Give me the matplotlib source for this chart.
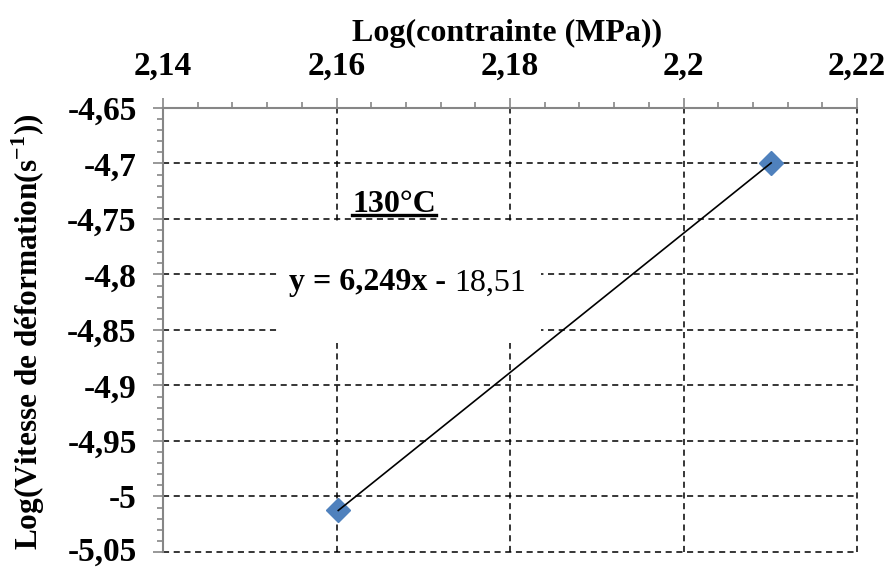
import matplotlib
matplotlib.use('Agg')

import matplotlib.pyplot as plt
import matplotlib.transforms as mtransforms
from matplotlib.lines import Line2D
from matplotlib.patches import Rectangle
from matplotlib.ticker import MultipleLocator, FuncFormatter

# data
log_stress = [2.1602, 2.2101]
log_rate = [-5.0126, -4.6995]
fit_label_bold = 'y = 6,249x - '
fit_label_rest = '18,51'
temp_label = '130°C'
x_ticks = [2.14, 2.16, 2.18, 2.20, 2.22]
y_ticks = [-5.05, -5.0, -4.95, -4.9, -4.85, -4.8, -4.75, -4.7, -4.65]

plt.rcParams['font.family'] = ['Liberation Serif', 'DejaVu Serif']
plt.rcParams['mathtext.fontset'] = 'custom'
plt.rcParams['mathtext.rm'] = 'Liberation Serif'
plt.rcParams['mathtext.bf'] = 'Liberation Serif:bold'

fig = plt.figure(figsize=(8.88, 5.68), dpi=100)
ax = fig.add_axes([0.1836, 0.0282, 0.7815, 0.7817])

ax.set_xlim(2.14, 2.22)
ax.set_ylim(-5.05, -4.65)


def comma(v, pos):
    s = ('%.2f' % v).rstrip('0').rstrip('.')
    return s.replace('.', ',')


ax.xaxis.tick_top()
ax.xaxis.set_label_position('top')
ax.set_xticks(x_ticks)
ax.set_yticks(y_ticks)
ax.xaxis.set_major_formatter(FuncFormatter(comma))
ax.yaxis.set_major_formatter(FuncFormatter(comma))
ax.xaxis.set_minor_locator(MultipleLocator(0.004))
ax.yaxis.set_minor_locator(MultipleLocator(0.01))

gray = '#868686'
ax.tick_params(which='major', length=7, width=1.2, color=gray, pad=12,
               labelsize=24)
ax.tick_params(which='minor', length=4.5, width=1.2, color=gray)
for lab in ax.get_xticklabels() + ax.get_yticklabels():
    lab.set_fontweight('bold')

# keep the lowest y label inside the picture
low = ax.yaxis.get_major_ticks()[0].label1
low.set_transform(low.get_transform() +
                  mtransforms.ScaledTranslation(0, 3 / 100, fig.dpi_scale_trans))

for side in ['bottom', 'right']:
    ax.spines[side].set_visible(False)
for side in ['top', 'left']:
    ax.spines[side].set_color(gray)
    ax.spines[side].set_linewidth(1.5)
    ax.spines[side].set_zorder(4)

ax.grid(True, which='major', color='black', linestyle=(0, (4, 3)),
        linewidth=1.1)
ax.set_axisbelow(True)
for gl in ax.get_xgridlines() + ax.get_ygridlines():
    gl.set_clip_on(False)

ax.set_xlabel('Log(contrainte (MPa))', fontsize=23, fontweight='bold')
ax.xaxis.set_label_coords(0.496, 1.15)
ax.set_ylabel(r'Log(Vitesse de déformation(s$^{\mathbf{-1}}$))', fontsize=22.5,
              fontweight='bold')
ax.yaxis.set_label_coords(-0.1945, 0.495)
ax.yaxis.label.set_va('center')

# points and trend line
ax.plot(log_stress, log_rate, linestyle='none', marker='D', markersize=12,
        color='#4F81BD', zorder=3, clip_on=False)
ax.plot(log_stress, log_rate, color='black', linewidth=1.2, zorder=4)

# white box behind the equation
ax.add_patch(Rectangle((0.1686, 0.4707), 0.376, 0.2748, transform=ax.transAxes,
                       facecolor='white', edgecolor='none', zorder=2))

t1 = ax.text(0.3516, 0.606, fit_label_bold + fit_label_rest, transform=ax.transAxes,
             fontsize=23, ha='center', va='center', alpha=0, zorder=5)
fig.canvas.draw()
bb = t1.get_window_extent()
inv = ax.transAxes.inverted()
x0 = inv.transform((bb.x0, bb.y0))[0]
tb = ax.text(x0, 0.606, fit_label_bold, transform=ax.transAxes, fontsize=23,
             fontweight='bold', ha='left', va='center', zorder=5)
fig.canvas.draw()
bb2 = tb.get_window_extent()
x1 = inv.transform((bb2.x1, bb2.y0))[0]
ax.text(x1, 0.606, fit_label_rest, transform=ax.transAxes, fontsize=23,
        ha='left', va='center', zorder=5)

tt = ax.text(0.333, 0.766, temp_label, transform=ax.transAxes, fontsize=23,
             fontweight='bold', ha='center', va='baseline', zorder=5)
fig.canvas.draw()
bt = tt.get_window_extent()
fig.add_artist(Line2D([bt.x0, bt.x1], [bt.y0 + 4, bt.y0 + 4], color='black',
                      linewidth=2.4, transform=None))

fig.savefig('out.png', dpi=100)
